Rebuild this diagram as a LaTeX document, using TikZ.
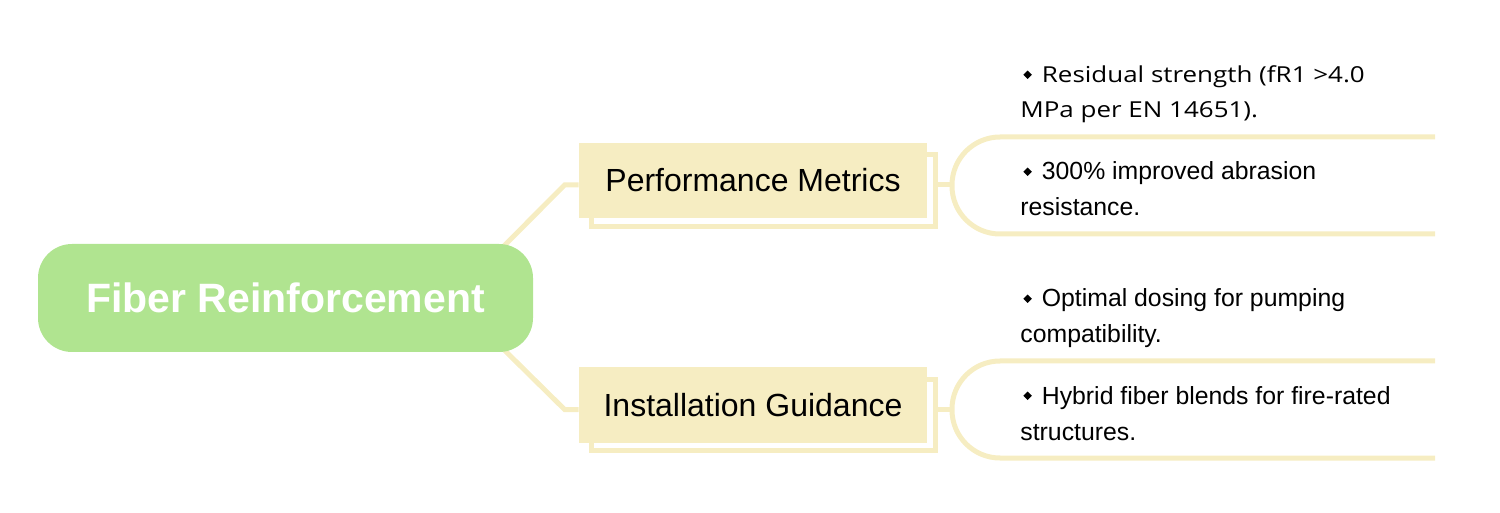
\documentclass[tikz,border=0pt]{standalone}
\usepackage{fontspec}
\setmainfont{Liberation Sans}
\newfontfamily\segoe[FakeStretch=1.18]{Open Sans}
\usetikzlibrary{backgrounds,calc}
\definecolor{rootgreen}{HTML}{B0E490}
\definecolor{pale}{HTML}{F6EDC2}
\newcommand{\bul}{\hspace{1.5pt}\raisebox{2pt}{\rotatebox{45}{\rule{3pt}{3pt}}}\hspace{5pt}}
\begin{document}
\begin{tikzpicture}[x=0.5pt,y=-0.5pt,
 rootbox/.style={fill=rootgreen, rounded corners=17pt, minimum width=247.5pt, minimum height=54pt, text=white, font=\bfseries\fontsize{20.5}{24}\selectfont, inner sep=0pt},
 branch/.style={fill=pale, minimum width=174pt, minimum height=37.5pt, font=\fontsize{16}{19}\selectfont, inner sep=0pt},
 conn/.style={draw=pale, line width=2.5pt},
 leafA/.style={anchor=base west, align=left, font=\segoe\fontsize{11}{17.5}\selectfont, inner sep=0pt},
 leafB/.style={anchor=base west, align=left, font=\fontsize{12.4}{18}\selectfont, inner sep=0pt},
]
\useasboundingbox (0,0) rectangle (1500,513);
\node[rootbox] (root) at (285.5,298) {Fiber Reinforcement};
\node[branch] (perf) at (753,180.5) {Performance Metrics};
\node[branch] (inst) at (753,405) {Installation Guidance};
\coordinate (b1) at (952,185);
\coordinate (b2) at (952,409.5);
\node[leafA] (l1) at (1020,118) {\bul Residual strength (fR1 >4.0\\MPa per EN 14651).};
\node[leafB] (l2) at (1020,216) {\bul 300\% improved abrasion\\resistance.};
\node[leafB] (l3) at (1020,343) {\bul Optimal dosing for pumping\\compatibility.};
\node[leafB] (l4) at (1020,440) {\bul Hybrid fiber blends for fire-rated\\structures.};
\begin{pgfonlayer}{background}
\draw[conn] ([shift={(-26.5pt,-13pt)}]root.north east) -- ([shift={(-7pt,-2.25pt)}]perf.west) -- ([yshift=-2.25pt]perf.west);
\draw[conn] ([shift={(-26.5pt,13pt)}]root.south east) -- ([shift={(-7pt,-2.25pt)}]inst.west) -- ([yshift=-2.25pt]inst.west);
\draw[conn] ([shift={(6.5pt,-6pt)}]perf.north west) rectangle ([shift={(4pt,-4pt)}]perf.south east);
\draw[conn] ([shift={(6.5pt,-6pt)}]inst.north west) rectangle ([shift={(4pt,-4pt)}]inst.south east);
\draw[conn] ([xshift=4pt]perf.east |- b1) -- (b1);
\draw[conn] ([xshift=4pt]inst.east |- b2) -- (b2);
\draw[conn, rounded corners=24pt] (1435,137) -- (b1 |- 0,137) -- (b1 |- 0,234) -- (1435,234);
\draw[conn, rounded corners=24pt] (1435,361) -- (b2 |- 0,361) -- (b2 |- 0,458) -- (1435,458);
\end{pgfonlayer}
\end{tikzpicture}
\end{document}
